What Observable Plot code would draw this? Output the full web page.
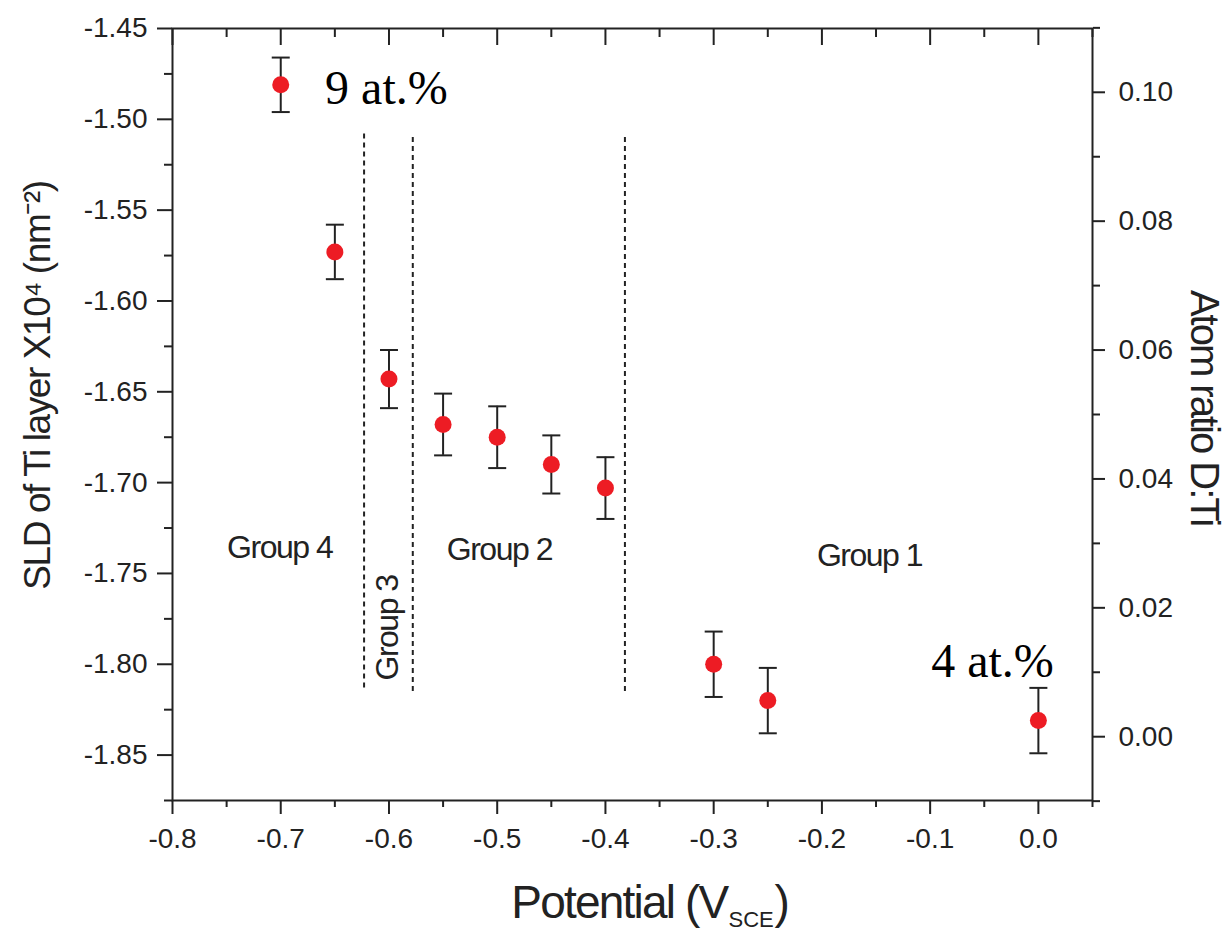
<!DOCTYPE html>
<html>
<head>
<meta charset="utf-8">
<script src="https://cdn.jsdelivr.net/npm/d3@7"></script>
<script src="https://cdn.jsdelivr.net/npm/@observablehq/plot@0.6"></script>
<style>
  body { margin: 0; background: #fff; }
  g[aria-description="x title"] text { letter-spacing: -1.8px; }
  g[aria-description="y title"] text { letter-spacing: -1.4px; }
  g[aria-description="ratio title"] text { letter-spacing: -2px; }
  g[aria-description="group labels"] text { letter-spacing: -1.5px; }
</style>
</head>
<body>
<div id="chart"></div>
<script>
// Applied potential (V vs SCE) and SLD of the Ti layer (x10^4 nm^-2) with its uncertainty
const potential = [-0.70, -0.65, -0.60, -0.55, -0.50, -0.45, -0.40, -0.30, -0.25, 0.00];
const sld       = [-1.481, -1.573, -1.643, -1.668, -1.675, -1.690, -1.703, -1.800, -1.820, -1.831];
const sldErr    = [0.015, 0.015, 0.016, 0.017, 0.017, 0.016, 0.017, 0.018, 0.018, 0.018];

// Dashed separators between the potential groups
const dividerX      = [-0.623, -0.578, -0.382];
const dividerTop    = [-1.507, -1.509, -1.509];
const dividerBottom = [-1.813, -1.815, -1.815];

// Group labels
const groupNames  = ["Group 4", "Group 3", "Group 2", "Group 1"];
const groupX      = [-0.701, -0.601, -0.498, -0.156];
const groupY      = [-1.736, -1.780, -1.737, -1.740];
const groupRotate = [0, -90, 0, 0];

// Deuterium content notes
const noteText = ["9 at.%", "4 at.%"];
const noteX    = [-0.659, -0.099];
const noteY    = [-1.4918, -1.8071];

// Axis domains and ticks
const xDomain = [-0.8, 0.05];
const yDomain = [-1.875, -1.45];
const xMajor = [-0.8, -0.7, -0.6, -0.5, -0.4, -0.3, -0.2, -0.1, 0.0];
const xMinor = [-0.75, -0.65, -0.55, -0.45, -0.35, -0.25, -0.15, -0.05, 0.05];
const yMajor = [-1.45, -1.50, -1.55, -1.60, -1.65, -1.70, -1.75, -1.80, -1.85];
const yMinor = [-1.475, -1.525, -1.575, -1.625, -1.675, -1.725, -1.775, -1.825, -1.875];

// Right axis: D:Ti atom ratio, linearly tied to the SLD axis
const ratioDomain = [-0.0099, 0.1099];
const ratioMajor = [0.00, 0.02, 0.04, 0.06, 0.08, 0.10];
const ratioMinor = [-0.01, 0.01, 0.03, 0.05, 0.07, 0.09, 0.11];

const toSLD = d3.scaleLinear().domain(ratioDomain).range(yDomain);
const ratioLabel = d => {
  const r = toSLD.invert(d);
  return (Math.abs(r) < 1e-9 ? 0 : r).toFixed(2);
};

const rows = potential.map((p, i) => ({
  p, s: sld[i], lo: sld[i] - sldErr[i], hi: sld[i] + sldErr[i]
}));
const dividers = dividerX.map((x, i) => ({x, y1: dividerBottom[i], y2: dividerTop[i]}));
const groups = groupNames.map((name, i) => ({name, x: groupX[i], y: groupY[i], rotate: groupRotate[i]}));
const notes = noteText.map((t, i) => ({t, x: noteX[i], y: noteY[i]}));

// Horizontal cap for the error bars
const cap = {
  draw(ctx, size) {
    const w = Math.sqrt(size / Math.PI);
    ctx.moveTo(-w, 0);
    ctx.lineTo(w, 0);
  }
};

const ink = "#222";
const sans = "'Liberation Sans', Arial, Helvetica, sans-serif";
const blank = () => "";

const chart = Plot.plot({
  width: 1226,
  height: 933,
  marginTop: 28,
  marginRight: 134,
  marginBottom: 133,
  marginLeft: 172,
  x: {domain: xDomain},
  y: {domain: yDomain},
  style: {fontFamily: sans, background: "#fff", color: ink},
  marks: [
    Plot.ruleX(dividers, {x: "x", y1: "y1", y2: "y2", stroke: ink, strokeWidth: 2, strokeDasharray: "5,4"}),
    Plot.ruleX(rows, {x: "p", y1: "lo", y2: "hi", stroke: ink, strokeWidth: 2}),
    Plot.dot(rows, {x: "p", y: "lo", symbol: cap, r: 9, fill: "none", stroke: ink, strokeWidth: 2}),
    Plot.dot(rows, {x: "p", y: "hi", symbol: cap, r: 9, fill: "none", stroke: ink, strokeWidth: 2}),
    Plot.dot(rows, {x: "p", y: "s", r: 8.5, fill: "#ed1c24", stroke: "none"}),

    // bottom axis
    Plot.axisX(xMajor, {anchor: "bottom", tickSize: 14, tickPadding: 14, strokeWidth: 2,
      tickFormat: d => d.toFixed(1), fontSize: 28, label: null}),
    Plot.axisX(xMinor, {anchor: "bottom", tickSize: 7, strokeWidth: 2, tickFormat: blank, label: null}),
    // top ticks, pointing inward
    Plot.axisX(xMajor, {anchor: "top", tickSize: 16, dy: 16, strokeWidth: 2, tickFormat: blank, label: null}),
    Plot.axisX(xMinor, {anchor: "top", tickSize: 8, dy: 8, strokeWidth: 2, tickFormat: blank, label: null}),
    // left axis (SLD)
    Plot.axisY(yMajor, {anchor: "left", tickSize: 15, tickPadding: 10, strokeWidth: 2,
      tickFormat: d => d.toFixed(2), fontSize: 28, label: null}),
    Plot.axisY(yMinor, {anchor: "left", tickSize: 8, strokeWidth: 2, tickFormat: blank, label: null}),
    // right axis (atom ratio)
    Plot.axisY(ratioMajor.map(toSLD), {anchor: "right", tickSize: 12, tickPadding: 14, strokeWidth: 2,
      tickFormat: ratioLabel, fontSize: 28, label: null}),
    Plot.axisY(ratioMinor.map(toSLD), {anchor: "right", tickSize: 7, strokeWidth: 2, tickFormat: blank, label: null}),

    Plot.frame({stroke: ink, strokeWidth: 2}),

    // group labels
    Plot.text(groups, {x: "x", y: "y", text: "name", rotate: "rotate", fontSize: 32, fill: ink,
      ariaDescription: "group labels"}),

    // composition notes
    Plot.text(notes, {x: "x", y: "y", text: "t", textAnchor: "start", lineAnchor: "bottom",
      fontSize: 48, fontFamily: "'Liberation Serif', 'Times New Roman', serif", fill: "#000"}),

    // x axis title with subscript
    Plot.text(["Potential (V"], {frameAnchor: "bottom", textAnchor: "end", lineAnchor: "bottom",
      dx: 95, dy: 117, fontSize: 46, fill: ink, ariaDescription: "x title"}),
    Plot.text(["SCE"], {frameAnchor: "bottom", textAnchor: "start", lineAnchor: "bottom",
      dx: 96, dy: 126, fontSize: 22, fill: ink}),
    Plot.text([")"], {frameAnchor: "bottom", textAnchor: "start", lineAnchor: "bottom",
      dx: 142, dy: 117, fontSize: 46, fill: ink}),

    // left axis title
    Plot.text(["SLD of Ti layer X10\u2074 (nm\u207B\u00B2)"], {frameAnchor: "left", textAnchor: "middle",
      rotate: -90, dx: -134, dy: -29, fontSize: 37, fill: ink, ariaDescription: "y title"}),

    // right axis title
    Plot.text(["Atom ratio D:Ti"], {frameAnchor: "right", textAnchor: "middle",
      rotate: 90, dx: 111, dy: -7, fontSize: 40, fill: ink, ariaDescription: "ratio title"})
  ]
});

document.getElementById("chart").appendChild(chart);
</script>
</body>
</html>
